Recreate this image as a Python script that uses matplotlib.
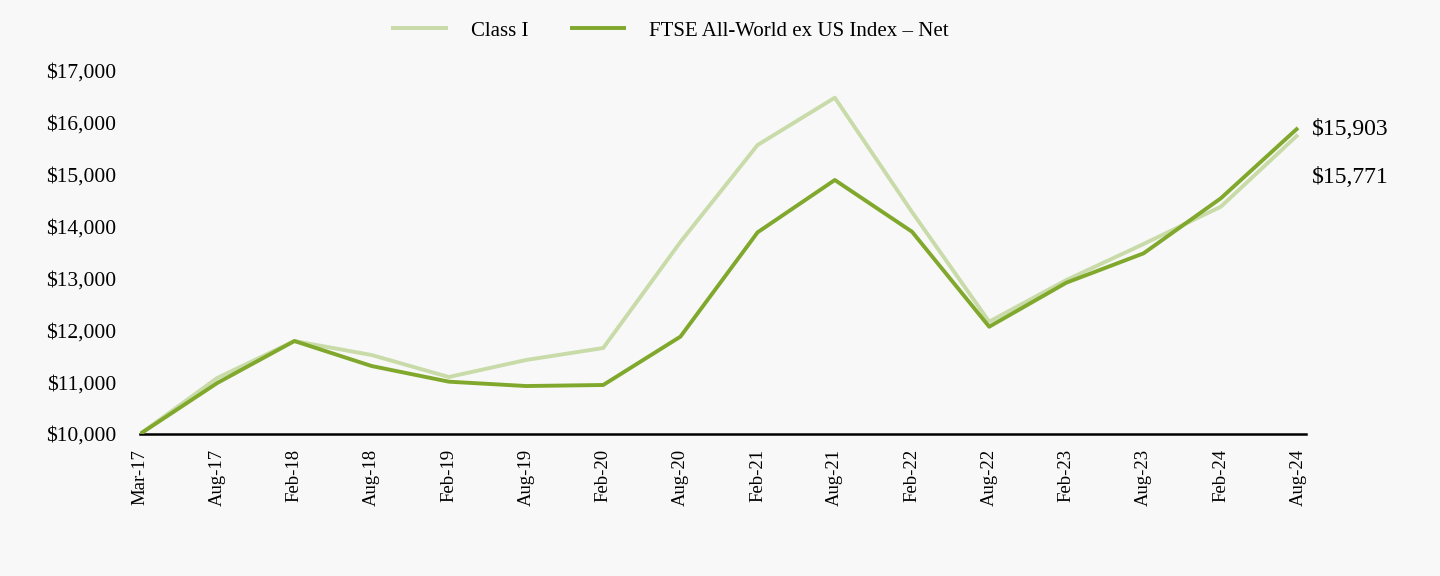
import matplotlib
matplotlib.use("Agg")
import matplotlib.pyplot as plt
from matplotlib.ticker import FuncFormatter

plt.rcParams['font.family'] = ['Liberation Serif', 'DejaVu Serif']

dates = ["Mar-17", "Aug-17", "Feb-18", "Aug-18", "Feb-19", "Aug-19", "Feb-20", "Aug-20",
         "Feb-21", "Aug-21", "Feb-22", "Aug-22", "Feb-23", "Aug-23", "Feb-24", "Aug-24"]
class_i = [10000, 11080, 11793, 11523, 11099, 11427, 11658, 13702,
           15573, 16485, 14281, 12166, 12970, 13664, 14383, 15771]
ftse = [10000, 10983, 11793, 11311, 11009, 10925, 10945, 11877,
        13889, 14898, 13901, 12069, 12918, 13484, 14545, 15903]
series_names = ["Class I", "FTSE All-World ex US Index – Net"]
y_ticks = [10000, 11000, 12000, 13000, 14000, 15000, 16000, 17000]

bg = "#f8f8f8"
c_light = "#c8dba8"
c_dark = "#80a82c"

fig = plt.figure(figsize=(14.4, 5.76), dpi=100, facecolor=bg)
ax = fig.add_axes([140/1440, 1-434/576, (1306-140)/1440, (434-71)/576])
ax.set_facecolor(bg)

x = list(range(len(dates)))
ax.plot(x, class_i, color=c_light, lw=2.8, label=series_names[0], solid_capstyle='butt')
ax.plot(x, ftse, color=c_dark, lw=2.8, label=series_names[1], solid_capstyle='butt')

ax.set_xlim(0, 15 + 8/77.2)
ax.set_ylim(10000, 17000)
ax.set_yticks(y_ticks)
ax.yaxis.set_major_formatter(FuncFormatter(lambda v, p: f"${v:,.0f}"))
ax.set_xticks(x)
ax.set_xticklabels(dates, rotation=90, fontsize=13.5)
ax.tick_params(axis='y', length=0, labelsize=15.5, pad=17)
ax.tick_params(axis='x', length=0, pad=11)

for s in ['top', 'right', 'left']:
    ax.spines[s].set_visible(False)
ax.spines['bottom'].set_color('black')
ax.spines['bottom'].set_linewidth(1.8)
ax.spines['bottom'].set_zorder(1)

ax.annotate(f"${ftse[-1]:,.0f}", xy=(x[-1], ftse[-1]), xytext=(10, -1.5),
            textcoords='offset points', va='center', ha='left', fontsize=17,
            annotation_clip=False)
ax.annotate(f"${class_i[-1]:,.0f}", xy=(x[-1], class_i[-1]), xytext=(10, -31),
            textcoords='offset points', va='center', ha='left', fontsize=17,
            annotation_clip=False)

leg = fig.legend(loc='center', bbox_to_anchor=(670/1440, 1-31/576), ncol=2,
                 frameon=False, fontsize=15, handlelength=2.7, handletextpad=1.1,
                 columnspacing=2.0)

fig.savefig("out.png", dpi=100, facecolor=bg)
